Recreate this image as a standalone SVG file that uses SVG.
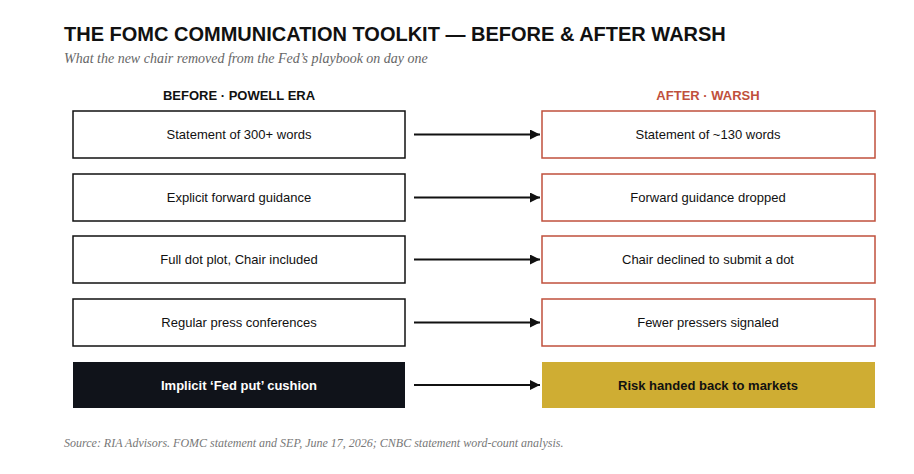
<svg xmlns="http://www.w3.org/2000/svg" width="914" height="474" viewBox="0 0 914 474">
<defs>
<style>
.t{font-family:"Liberation Sans",Arial,sans-serif;}
.s{font-family:"Liberation Serif","Times New Roman",serif;font-style:italic;}
.l{fill:#fff;stroke:#111;stroke-width:1.5;}
.r{fill:#fff;stroke:#c0503c;stroke-width:1.5;}
.bt{font-family:"Liberation Sans",Arial,sans-serif;font-size:13px;fill:#111;text-anchor:middle;dominant-baseline:central;}
.c{stroke:#111;stroke-width:2;fill:none;marker-end:url(#a);}
</style>
<marker id="a" viewBox="0 0 10 10" refX="10" refY="5" markerWidth="5" markerHeight="5" orient="auto"><path d="M0,0L10,5L0,10z" fill="#111"/></marker>
</defs>
<rect width="914" height="474" fill="#fff"/>
<text class="t" x="64" y="41" font-size="20" font-weight="bold" fill="#111">THE FOMC COMMUNICATION TOOLKIT — BEFORE &amp; AFTER WARSH</text>
<text class="s" x="64" y="63" font-size="14" fill="#666">What the new chair removed from the Fed’s playbook on day one</text>
<text class="t" x="239" y="100" font-size="13" font-weight="bold" fill="#111" text-anchor="middle">BEFORE · POWELL ERA</text>
<text class="t" x="708" y="100" font-size="13" font-weight="bold" fill="#c0503c" text-anchor="middle">AFTER · WARSH</text>
<g id="connectors">
<line class="c" x1="414" y1="134.5" x2="540" y2="134.5"/>
<line class="c" x1="414" y1="197.5" x2="540" y2="197.5"/>
<line class="c" x1="414" y1="259.5" x2="540" y2="259.5"/>
<line class="c" x1="414" y1="322.5" x2="540" y2="322.5"/>
<line class="c" x1="414" y1="385" x2="540" y2="385"/>
</g>
<g id="b1"><rect class="l" x="73" y="111" width="332" height="47"/><text class="bt" x="239" y="134.5">Statement of 300+ words</text></g>
<g id="b2"><rect class="l" x="73" y="174" width="332" height="47"/><text class="bt" x="239" y="197.5">Explicit forward guidance</text></g>
<g id="b3"><rect class="l" x="73" y="236" width="332" height="47"/><text class="bt" x="239" y="259.5">Full dot plot, Chair included</text></g>
<g id="b4"><rect class="l" x="73" y="299" width="332" height="47"/><text class="bt" x="239" y="322.5">Regular press conferences</text></g>
<g id="b5"><rect x="73" y="362" width="332" height="46" fill="#10131a"/><text class="bt" x="239" y="385" font-weight="bold" style="fill:#fff">Implicit ‘Fed put’ cushion</text></g>
<g id="a1"><rect class="r" x="542" y="111" width="333" height="47"/><text class="bt" x="708" y="134.5">Statement of ~130 words</text></g>
<g id="a2"><rect class="r" x="542" y="174" width="333" height="47"/><text class="bt" x="708" y="197.5">Forward guidance dropped</text></g>
<g id="a3"><rect class="r" x="542" y="236" width="333" height="47"/><text class="bt" x="708" y="259.5">Chair declined to submit a dot</text></g>
<g id="a4"><rect class="r" x="542" y="299" width="333" height="47"/><text class="bt" x="708" y="322.5">Fewer pressers signaled</text></g>
<g id="a5"><rect x="542" y="362" width="333" height="46" fill="#cfad33"/><text class="bt" x="708" y="385" font-weight="bold">Risk handed back to markets</text></g>
<text class="s" x="64" y="447" font-size="12" fill="#777">Source: RIA Advisors. FOMC statement and SEP, June 17, 2026; CNBC statement word-count analysis.</text>
</svg>
